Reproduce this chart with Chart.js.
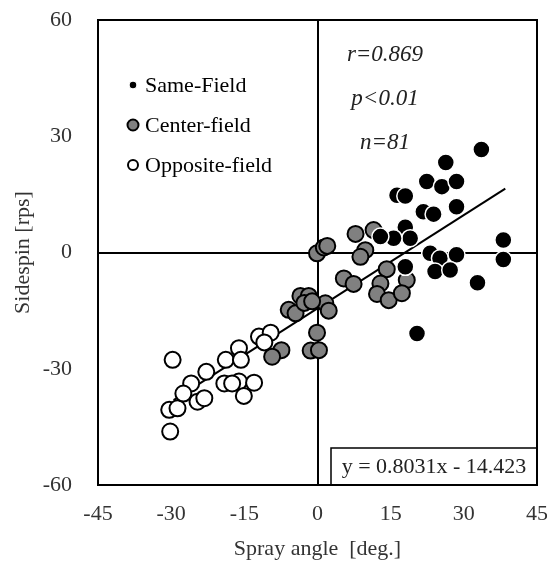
<!DOCTYPE html>
<html>
<head>
<meta charset="utf-8">
<script src="https://cdn.jsdelivr.net/npm/chart.js@4.4.1/dist/chart.umd.min.js"></script>
<style>
  html, body { margin: 0; padding: 0; background: #fff; }
  #wrap { width: 547px; height: 562px; }
</style>
</head>
<body>
<div id="wrap"><canvas id="c" width="547" height="562"></canvas></div>
<script>
// Spray angle [deg.] vs sidespin [rps] for each batted-ball direction
const sameField = [
  [33.6, 26.6], [26.3, 23.2], [22.4, 18.3], [25.5, 17.0], [28.5, 18.3],
  [16.3, 14.8], [18.0, 14.6], [21.7, 10.5], [23.8, 9.9], [28.5, 11.8],
  [18.0, 6.5], [19.0, 3.7], [15.6, 3.7], [12.9, 4.1], [38.1, 3.2],
  [38.1, -1.8], [23.1, -0.2], [25.1, -1.5], [28.5, -0.6], [24.1, -4.9],
  [27.2, -4.5], [32.8, -7.8], [18.0, -3.7], [20.4, -20.9]
];
const centerField = [
  [-0.1, -0.2], [1.3, 1.3], [2.0, 1.7], [7.8, 4.8], [11.5, 5.8],
  [9.8, 0.6], [8.8, -1.1], [5.4, -6.7], [7.4, -8.1], [14.2, -4.3],
  [12.9, -8.0], [18.3, -7.1], [12.2, -10.7], [14.6, -12.3], [17.3, -10.5],
  [-3.5, -11.2], [-1.8, -11.2], [-5.9, -14.8], [-4.5, -15.7], [1.6, -13.1],
  [2.3, -15.0], [-0.1, -20.7], [-1.4, -25.3], [0.3, -25.2], [-7.4, -25.2],
  [-9.3, -26.9], [-2.7, -13.0], [-1.1, -12.6]
];
const oppositeField = [
  [-29.7, -27.7], [-30.4, -40.6], [-28.7, -40.2], [-30.2, -46.2], [-25.9, -33.8],
  [-27.5, -36.4], [-24.6, -38.5], [-23.2, -37.6], [-22.8, -30.8], [-19.1, -33.8],
  [-18.8, -27.7], [-16.1, -24.7], [-15.7, -27.7], [-16.1, -33.3], [-15.1, -37.0],
  [-13.0, -33.6], [-12.0, -21.7], [-9.6, -20.7], [-10.9, -23.2], [-17.5, -33.8]
];

// Least-squares fit as reported on the chart
const fitSlope = 0.8031;
const fitIntercept = -14.423;
const fitRange = [-29.5, 38.5];

const xTicks = [-45, -30, -15, 0, 15, 30, 45];
const yTicks = [-60, -30, 0, 30, 60];

const statLines = ['r=0.869', 'p<0.01', 'n=81'];
const legendNames = ['Same-Field', 'Center-field', 'Opposite-field'];
const equationText = 'y = 0.8031x - 14.423';

const SERIF = "'Times New Roman', 'Liberation Serif', serif";

const toPts = arr => arr.map(([x, y]) => ({ x, y }));
const fitLine = fitRange.map(x => ({ x, y: fitSlope * x + fitIntercept }));

const zeroGrid = (ctx) => (ctx.tick && ctx.tick.value === 0) ? '#000' : 'rgba(0,0,0,0)';

// keep edge tick labels from shrinking the plot area
const noEdgePadding = s => {
  s.paddingLeft = 0; s.paddingRight = 0; s.paddingTop = 0; s.paddingBottom = 0;
};

const overlay = {
  id: 'overlay',
  afterDatasetsDraw(chart) {
    const { ctx, chartArea: a } = chart;
    ctx.save();

    // plot frame
    ctx.strokeStyle = '#000';
    ctx.lineWidth = 2;
    ctx.strokeRect(a.left, a.top, a.right - a.left, a.bottom - a.top);

    // legend
    const lx = 133, lyc = [85, 125, 165];
    const marks = [
      { r: 4, fill: '#000', stroke: '#fff', w: 1.5 },
      { r: 5.5, fill: '#808080', stroke: '#000', w: 2 },
      { r: 5, fill: '#fff', stroke: '#000', w: 2 }
    ];
    ctx.font = '22px ' + SERIF;
    ctx.textAlign = 'left';
    ctx.textBaseline = 'middle';
    legendNames.forEach((name, i) => {
      const m = marks[i];
      ctx.beginPath();
      ctx.arc(lx, lyc[i], m.r, 0, Math.PI * 2);
      ctx.fillStyle = m.fill;
      ctx.fill();
      ctx.lineWidth = m.w;
      ctx.strokeStyle = m.stroke;
      ctx.stroke();
      ctx.fillStyle = '#000';
      ctx.fillText(name, 145, lyc[i] + 1);
    });

    // statistics
    ctx.font = 'italic 23px ' + SERIF;
    ctx.textAlign = 'center';
    ctx.fillStyle = '#222';
    const sy = [55, 99, 143];
    statLines.forEach((t, i) => ctx.fillText(t, 385, sy[i]));

    // regression equation box
    const bx = 331, by = 448;
    ctx.lineWidth = 1.5;
    ctx.strokeStyle = '#000';
    ctx.beginPath();
    ctx.moveTo(bx, a.bottom);
    ctx.lineTo(bx, by);
    ctx.lineTo(a.right, by);
    ctx.stroke();
    ctx.font = '22px ' + SERIF;
    ctx.fillStyle = '#222';
    ctx.textAlign = 'center';
    ctx.fillText(equationText, (bx + a.right) / 2, (by + a.bottom) / 2 + 1);

    ctx.restore();
  }
};

new Chart(document.getElementById('c'), {
  type: 'scatter',
  data: {
    datasets: [
      {
        label: legendNames[0],
        data: toPts(sameField),
        backgroundColor: '#000',
        borderColor: '#fff',
        borderWidth: 1.5,
        pointRadius: 8.5
      },
      {
        label: legendNames[2],
        data: toPts(oppositeField),
        backgroundColor: '#fff',
        borderColor: '#000',
        borderWidth: 2,
        pointRadius: 8
      },
      {
        label: legendNames[1],
        data: toPts(centerField),
        backgroundColor: '#808080',
        borderColor: '#000',
        borderWidth: 2,
        pointRadius: 8
      },
      {
        type: 'line',
        label: 'fit',
        data: fitLine,
        borderColor: '#000',
        borderWidth: 2,
        pointRadius: 0,
        fill: false
      }
    ]
  },
  options: {
    responsive: false,
    animation: false,
    devicePixelRatio: 1,
    layout: { padding: { top: 20, right: 8, left: 0, bottom: 0 } },
    plugins: { legend: { display: false }, tooltip: { enabled: false } },
    scales: {
      x: {
        type: 'linear',
        min: -45, max: 45,
        afterBuildTicks: s => { s.ticks = xTicks.map(v => ({ value: v })); },
        afterFit: s => { s.height = 77; noEdgePadding(s); },
        ticks: { color: '#333', padding: 16, maxRotation: 0, font: { family: SERIF, size: 22 } },
        grid: { color: zeroGrid, lineWidth: 2, drawTicks: false, tickLength: 0 },
        border: { display: false },
        title: {
          display: true, text: 'Spray angle  [deg.]', color: '#333',
          font: { family: SERIF, size: 22 }, padding: { top: 0, bottom: 0 }
        }
      },
      y: {
        type: 'linear',
        min: -60, max: 60,
        afterBuildTicks: s => { s.ticks = yTicks.map(v => ({ value: v })); },
        afterFit: s => { s.width = 98; noEdgePadding(s); },
        ticks: { color: '#333', padding: 26, font: { family: SERIF, size: 22 } },
        grid: { color: zeroGrid, lineWidth: 2, drawTicks: false, tickLength: 0 },
        border: { display: false },
        title: {
          display: true, text: 'Sidespin [rps]', color: '#333',
          font: { family: SERIF, size: 22 }, padding: { top: 10, bottom: 0 }
        }
      }
    }
  },
  plugins: [overlay]
});
</script>
</body>
</html>
